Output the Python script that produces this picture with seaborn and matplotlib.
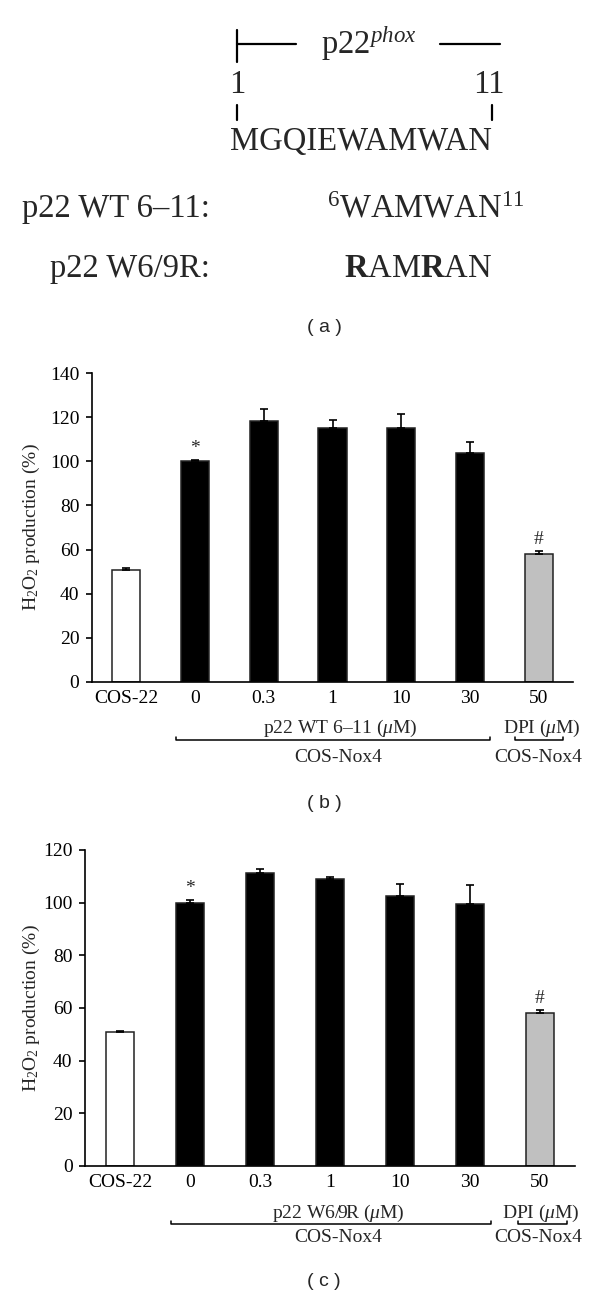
import numpy as np
import matplotlib
matplotlib.use("Agg")
import matplotlib.pyplot as plt
from matplotlib.lines import Line2D
import seaborn as sns

# ---------------------------------------------------------------------------
# Data
# ---------------------------------------------------------------------------
GROUPS = ["COS-22", "0", "0.3", "1", "10", "30", "50"]
BAR_COLORS = ["white", "black", "black", "black", "black", "black", "#c0c0c0"]
MARKS = ["", "*", "", "", "", "", "#"]

# panel (b): p22 WT 6-11
WT_MEAN = [50.9, 100.0, 118.2, 115.3, 115.3, 103.8, 58.1]
WT_ERR = [0.7, 0.8, 5.6, 3.5, 6.0, 5.1, 1.2]

# panel (c): p22 W6/9R
MUT_MEAN = [50.8, 100.0, 111.3, 108.9, 102.4, 99.6, 58.1]
MUT_ERR = [0.6, 0.9, 1.5, 0.9, 4.8, 7.0, 1.2]

W, H = 600, 1296
SERIF = "Liberation Serif"
BIG = 23.5      # panel (a) sequence text
SMALL = 14      # chart text

sns.set_style("white")
plt.rcParams["font.family"] = [SERIF, "DejaVu Serif"]
plt.rcParams["mathtext.fontset"] = "custom"
plt.rcParams["mathtext.rm"] = SERIF
plt.rcParams["mathtext.it"] = SERIF + ":italic"
plt.rcParams["mathtext.bf"] = SERIF + ":bold"


def fx(px):
    return px / W


def fy(py):
    return 1 - py / H


fig = plt.figure(figsize=(W / 100, H / 100), dpi=100)


def line(xs, ys, lw=1.2):
    fig.add_artist(Line2D([fx(x) for x in xs], [fy(y) for y in ys],
                          transform=fig.transFigure, color="black", lw=lw))


def text(x, y, s, size=SMALL, **kw):
    kw.setdefault("ha", "center")
    kw.setdefault("va", "center")
    fig.text(fx(x), fy(y), s, fontsize=size, **kw)


# ---------------------------------------------------------------------------
# Panel (a): peptide sequences
# ---------------------------------------------------------------------------
line([237, 237], [30, 62], lw=1.6)
line([237, 296], [44, 44], lw=1.6)
line([440, 500], [44, 44], lw=1.6)
text(321, 54, r"p22$^{\mathit{phox}}$", size=BIG, ha="left", va="baseline")
text(237, 93, "1", size=BIG, va="baseline")
text(489, 93, "11", size=BIG, va="baseline")
line([237, 237], [105, 120], lw=1.6)
line([492, 492], [105, 120], lw=1.6)
text(230, 150, "MGQIEWAMWAN", size=BIG, ha="left", va="baseline")
text(210, 217, "p22 WT 6\u201311:", size=BIG, ha="right", va="baseline")
text(327, 217, r"$^{6}$WAMWAN$^{11}$", size=BIG, ha="left", va="baseline")
text(210, 277, "p22 W6/9R:", size=BIG, ha="right", va="baseline")
text(344, 277, r"$\mathbf{R}$AM$\mathbf{R}$AN", size=BIG, ha="left", va="baseline")
text(324, 328, "( a )", size=14, family="Liberation Sans")


# ---------------------------------------------------------------------------
# Panels (b) and (c): bar charts
# ---------------------------------------------------------------------------
def draw_panel(box, mean, err, ymax, label_x):
    left, top, right, bottom = box
    ax = fig.add_axes([fx(left), fy(bottom), (right - left) / W, (bottom - top) / H])
    sns.barplot(x=GROUPS, y=mean, hue=GROUPS, palette=BAR_COLORS, width=0.41,
                edgecolor="#222222", linewidth=1.1, legend=False, ax=ax)
    ax.errorbar(range(len(GROUPS)), mean, yerr=[np.zeros(len(err)), err],
                fmt="none", ecolor="black", elinewidth=1.2, capsize=3, capthick=1.2)
    for i, m in enumerate(MARKS):
        if m:
            ax.text(i, mean[i] + err[i] + 1.2, m, ha="center", va="bottom", fontsize=14)

    ax.set_xlim(-0.5, len(GROUPS) - 0.5)
    ax.set_ylim(0, ymax)
    ax.set_yticks(range(0, ymax + 1, 20))
    sns.despine(ax=ax)
    for side in ["left", "bottom"]:
        ax.spines[side].set_color("black")
        ax.spines[side].set_linewidth(1.2)
    ax.tick_params(axis="y", direction="out", length=4, width=1.2, pad=5,
                   labelsize=SMALL, left=True, colors="black")
    ax.tick_params(axis="x", length=0, pad=6, labelsize=SMALL, colors="black")
    ax.set_xlabel("")
    ax.set_ylabel(r"H$_2$O$_2$ production (%)", fontsize=SMALL)
    ax.yaxis.set_label_coords(label_x, 0.5)
    return ax


draw_panel((92, 373, 573, 682), WT_MEAN, WT_ERR, 140, -0.104)
text(340, 728, "p22 WT 6\u201311 ($\\mu$M)")
line([176, 176, 490, 490], [737, 740, 740, 737], lw=1.1)
text(338, 758, "COS-Nox4")
text(542, 728, r"DPI ($\mu$M)")
line([515, 515, 563, 563], [737, 740, 740, 737], lw=1.1)
text(538, 758, "COS-Nox4")
text(324, 803, "( b )", size=14, family="Liberation Sans")

draw_panel((85, 850, 575, 1166), MUT_MEAN, MUT_ERR, 120, -0.088)
text(338, 1213, r"p22 W6/9R ($\mu$M)")
line([171, 171, 491, 491], [1221, 1224, 1224, 1221], lw=1.1)
text(338, 1237, "COS-Nox4")
text(541, 1213, r"DPI ($\mu$M)")
line([518, 518, 567, 567], [1221, 1224, 1224, 1221], lw=1.1)
text(538, 1237, "COS-Nox4")
text(324, 1282, "( c )", size=14, family="Liberation Sans")

fig.savefig("out.png", dpi=100)
